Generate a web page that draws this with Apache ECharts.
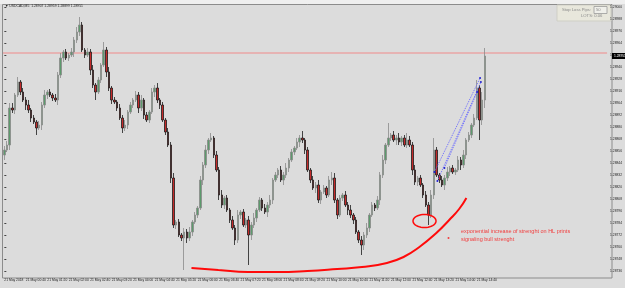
<!DOCTYPE html>
<html><head><meta charset="utf-8">
<script src="https://cdn.jsdelivr.net/npm/echarts@6/dist/echarts.min.js"></script>
<style>html,body{margin:0;padding:0;background:#dcdcdc;overflow:hidden}#c{width:625px;height:288px}</style>
</head><body><div id="c"></div>
<script>
const tickLabels = ["21 May 2018","21 May 00:40","21 May 01:20","21 May 02:00","21 May 02:40","21 May 03:20","21 May 04:00","21 May 04:40","21 May 05:20","21 May 06:00","21 May 06:40","21 May 07:20","21 May 08:00","21 May 08:40","21 May 09:20","21 May 10:00","21 May 10:40","21 May 11:20","21 May 12:00","21 May 12:40","21 May 13:20","21 May 14:00","21 May 14:40"];

const open = [
1.28852,1.28857,1.28862,1.28899,1.28897,1.28912,1.28925,1.28915,1.28907,1.28902,
1.28897,1.28889,1.28885,1.28879,1.28882,1.28902,1.28912,1.28915,1.28912,1.28909,
1.28907,1.28932,1.28949,1.28955,1.28949,1.28952,1.28955,1.28967,1.28975,1.28982,
1.28957,1.28952,1.28955,1.28937,1.28922,1.28915,1.28927,1.28942,1.28957,1.28935,
1.28919,1.28907,1.28905,1.28899,1.28889,1.28879,1.28882,1.28895,1.28902,1.28907,
1.28912,1.28899,1.28907,1.28892,1.28887,1.28895,1.28915,1.28919,1.28907,1.28902,
1.28887,1.28875,1.28862,1.28829,1.28782,1.28785,1.28772,1.28769,1.28775,1.28769,
1.28775,1.28785,1.28792,1.28799,1.28827,1.28842,1.28857,1.28867,1.28869,1.28852,
1.28837,1.28812,1.28802,1.28809,1.28797,1.28787,1.28779,1.28767,1.28792,1.28795,
1.28782,1.28787,1.28772,1.28782,1.28789,1.28797,1.28807,1.28799,1.28795,1.28802,
1.28807,1.28827,1.28832,1.28837,1.28827,1.28832,1.28839,1.28847,1.28855,1.28859,
1.28865,1.28869,1.28867,1.28857,1.28837,1.28827,1.28819,1.28822,1.28807,1.28815,
1.28819,1.28812,1.28827,1.28829,1.28807,1.28792,1.28809,1.28812,1.28802,1.28797,
1.28792,1.28787,1.28775,1.28767,1.28762,1.28772,1.28779,1.28792,1.28802,1.28799,
1.28807,1.28832,1.28847,1.28862,1.28869,1.28872,1.28867,1.28869,1.28865,1.28869,
1.28862,1.28867,1.28862,1.28837,1.28825,1.28829,1.28822,1.28812,1.28802,1.28792,
1.28812,1.28857,1.28832,1.28827,1.28822,1.28829,1.28835,1.28839,1.28835,1.28837,
1.28847,1.28842,1.28852,1.28867,1.28872,1.28882,1.28889,1.28919,1.28887,1.28907];

const close = [
1.28857,1.28862,1.28899,1.28897,1.28912,1.28925,1.28915,1.28907,1.28902,1.28897,
1.28889,1.28885,1.28879,1.28882,1.28902,1.28912,1.28915,1.28912,1.28909,1.28907,
1.28932,1.28949,1.28955,1.28949,1.28952,1.28955,1.28967,1.28975,1.28982,1.28957,
1.28952,1.28955,1.28937,1.28922,1.28915,1.28927,1.28942,1.28957,1.28935,1.28919,
1.28907,1.28905,1.28899,1.28889,1.28879,1.28882,1.28895,1.28902,1.28907,1.28912,
1.28899,1.28907,1.28892,1.28887,1.28895,1.28915,1.28919,1.28907,1.28902,1.28887,
1.28875,1.28862,1.28829,1.28782,1.28785,1.28772,1.28769,1.28775,1.28769,1.28775,
1.28785,1.28792,1.28799,1.28827,1.28842,1.28857,1.28867,1.28869,1.28852,1.28837,
1.28812,1.28802,1.28809,1.28797,1.28787,1.28779,1.28767,1.28792,1.28795,1.28782,
1.28787,1.28772,1.28782,1.28789,1.28797,1.28807,1.28799,1.28795,1.28802,1.28807,
1.28827,1.28832,1.28837,1.28827,1.28832,1.28839,1.28847,1.28855,1.28859,1.28865,
1.28869,1.28867,1.28857,1.28837,1.28827,1.28819,1.28822,1.28807,1.28815,1.28819,
1.28812,1.28827,1.28829,1.28807,1.28792,1.28809,1.28812,1.28802,1.28797,1.28792,
1.28787,1.28775,1.28767,1.28762,1.28772,1.28779,1.28792,1.28802,1.28799,1.28807,
1.28832,1.28847,1.28862,1.28869,1.28872,1.28867,1.28869,1.28865,1.28869,1.28862,
1.28867,1.28862,1.28837,1.28825,1.28829,1.28822,1.28812,1.28802,1.28792,1.28812,
1.28857,1.28832,1.28827,1.28822,1.28829,1.28835,1.28839,1.28835,1.28837,1.28847,
1.28842,1.28852,1.28867,1.28872,1.28882,1.28889,1.28919,1.28887,1.28907,1.28951];

const high = [
1.28861,1.28866,1.28904,1.28904,1.28914,1.28930,1.28927,1.28919,1.28910,1.28907,
1.28899,1.28892,1.28887,1.28886,1.28905,1.28917,1.28917,1.28918,1.28914,1.28913,
1.28935,1.28954,1.28957,1.28958,1.28954,1.28959,1.28970,1.28980,1.28990,1.28985,
1.28959,1.28959,1.28958,1.28942,1.28924,1.28930,1.28944,1.28965,1.28960,1.28940,
1.28921,1.28910,1.28907,1.28903,1.28892,1.28887,1.28897,1.28905,1.28909,1.28916,
1.28915,1.28912,1.28909,1.28895,1.28897,1.28919,1.28922,1.28924,1.28909,1.28905,
1.28889,1.28879,1.28865,1.28834,1.28787,1.28788,1.28774,1.28779,1.28778,1.28780,
1.28787,1.28795,1.28801,1.28831,1.28845,1.28862,1.28869,1.28874,1.28871,1.28856,
1.28840,1.28817,1.28811,1.28812,1.28799,1.28791,1.28782,1.28797,1.28797,1.28798,
1.28789,1.28791,1.28785,1.28794,1.28799,1.28810,1.28809,1.28803,1.28805,1.28812,
1.28829,1.28835,1.28839,1.28841,1.28835,1.28844,1.28849,1.28858,1.28861,1.28869,
1.28872,1.28876,1.28869,1.28860,1.28839,1.28831,1.28825,1.28827,1.28817,1.28822,
1.28821,1.28831,1.28835,1.28834,1.28809,1.28812,1.28814,1.28816,1.28805,1.28802,
1.28794,1.28790,1.28777,1.28771,1.28775,1.28784,1.28794,1.28805,1.28804,1.28811,
1.28835,1.28852,1.28864,1.28884,1.28874,1.28876,1.28872,1.28874,1.28871,1.28872,
1.28874,1.28871,1.28865,1.28842,1.28831,1.28832,1.28824,1.28816,1.28805,1.28817,
1.28869,1.28860,1.28834,1.28831,1.28832,1.28840,1.28841,1.28842,1.28839,1.28851,
1.28850,1.28857,1.28869,1.28875,1.28884,1.28893,1.28927,1.28922,1.28915,1.28959];

const low = [
1.28847,1.28855,1.28857,1.28894,1.28893,1.28910,1.28912,1.28905,1.28897,1.28894,
1.28885,1.28883,1.28872,1.28877,1.28877,1.28899,1.28908,1.28910,1.28906,1.28905,
1.28902,1.28929,1.28945,1.28947,1.28946,1.28950,1.28950,1.28964,1.28971,1.28955,
1.28949,1.28950,1.28932,1.28919,1.28907,1.28913,1.28924,1.28940,1.28930,1.28916,
1.28903,1.28903,1.28896,1.28887,1.28874,1.28876,1.28878,1.28893,1.28899,1.28905,
1.28894,1.28896,1.28888,1.28885,1.28884,1.28893,1.28910,1.28904,1.28898,1.28885,
1.28872,1.28860,1.28824,1.28779,1.28778,1.28770,1.28766,1.28737,1.28764,1.28766,
1.28771,1.28783,1.28789,1.28797,1.28822,1.28839,1.28853,1.28865,1.28849,1.28835,
1.28807,1.28799,1.28798,1.28795,1.28784,1.28777,1.28762,1.28764,1.28788,1.28780,
1.28779,1.28742,1.28767,1.28779,1.28785,1.28795,1.28796,1.28793,1.28790,1.28799,
1.28803,1.28825,1.28829,1.28825,1.28822,1.28829,1.28835,1.28845,1.28852,1.28857,
1.28860,1.28864,1.28853,1.28835,1.28824,1.28817,1.28814,1.28804,1.28803,1.28813,
1.28809,1.28810,1.28822,1.28804,1.28788,1.28790,1.28806,1.28800,1.28792,1.28789,
1.28783,1.28773,1.28764,1.28752,1.28757,1.28769,1.28775,1.28790,1.28796,1.28797,
1.28802,1.28829,1.28843,1.28860,1.28866,1.28865,1.28862,1.28862,1.28861,1.28860,
1.28859,1.28860,1.28832,1.28822,1.28821,1.28820,1.28809,1.28800,1.28782,1.28789,
1.28808,1.28830,1.28824,1.28820,1.28817,1.28826,1.28831,1.28833,1.28832,1.28835,
1.28837,1.28839,1.28848,1.28865,1.28869,1.28880,1.28887,1.28867,1.28882,1.28899];

const levelLine = 1.28954;
// hand-drawn annotation (bar index, price)
const curveX = [69.7,79.7,90.7,101.8,112.9,124.0,133.2,142.5,148.7,154.6,160.9,165.7,169.4,172.1];
const curveY = [1.28739,1.28737,1.28735,1.28735,1.28736,1.28738,1.28740,1.28744,1.28750,1.28760,1.28774,1.28787,1.28798,1.28809];
const trend1 = [[160.2,1.28835],[177.2,1.28929]];
const trend2 = [[161.3,1.28826],[177.5,1.28925]];
const trend3 = [[163.9,1.28839],[176.1,1.28915]];
const circleCenter = [156.5, 1.28786];

const TOTAL = 225;
const categories = [];
for (let i = 0; i < TOTAL; i++) categories.push((i % 8 === 0 && i / 8 < tickLabels.length) ? tickLabels[i / 8] : '');
const ohlc = open.map((o, i) => [o, close[i], low[i], high[i]]);
const curve = curveX.map((x, i) => [x, curveY[i]]);
const lastClose = close[close.length - 1];

const FONT = 'Liberation Sans';
const tiny = {fontFamily: FONT, fontSize: 3.3, color: '#222'};
const chart = echarts.init(document.getElementById('c'));
const trendSeries = (d) => ({type:'line', xAxisIndex:1, yAxisIndex:0, data:d, silent:true, clip:false,
  symbol:'circle', symbolSize:2, itemStyle:{color:'#2020d0'},
  lineStyle:{color:'#6a6aff', width:1, type:[1,1]}, z:5});
chart.setOption({
  animation:false,
  backgroundColor:'#dcdcdc',
  grid:{left:3, right:13, top:7, height:264},
  xAxis:[
    {type:'category', data:categories, boundaryGap:true,
     axisLine:{show:false}, axisTick:{show:false}, splitLine:{show:false},
     axisLabel:{interval:7, align:'left', margin:8, ...tiny}},
    {type:'value', min:-0.5, max:TOTAL-0.5, show:false}
  ],
  yAxis:{type:'value', position:'right', min:1.28736, max:1.29000, interval:0.00012,
    axisLine:{show:false}, axisTick:{show:true, length:2, lineStyle:{color:'#444'}},
    splitLine:{show:false},
    axisLabel:{margin:3, ...tiny, formatter:(v)=>v.toFixed(5)}},
  series:[
    {type:'line', xAxisIndex:1, yAxisIndex:0, data:[[-0.5, levelLine],[TOTAL-0.5, levelLine]],
     symbol:'none', silent:true, lineStyle:{color:'#f08a8a', width:1}, z:1},
    {type:'candlestick', data:ohlc, barWidth:2, z:3,
     itemStyle:{color:'#5c9a6c', color0:'#c42a2a', borderColor:'#8a8a8a', borderColor0:'#1c1c1c', borderWidth:0.8}},
    {type:'line', xAxisIndex:1, yAxisIndex:0, data:curve, smooth:true, symbol:'none', clip:false, silent:true,
     lineStyle:{color:'#ff0a0a', width:2}, z:6},
    trendSeries(trend1), trendSeries(trend2), trendSeries(trend3)
  ]
});
const pc = chart.convertToPixel({xAxisIndex:1, yAxisIndex:0}, [TOTAL - 0.5, lastClose]);
const ctr = chart.convertToPixel({xAxisIndex:1, yAxisIndex:0}, circleCenter);
const pts = [];
for (let k = 0; k <= 40; k++) { const a = k / 40 * Math.PI * 2; pts.push([ctr[0] + 11.5 * Math.cos(a), ctr[1] + 6.5 * Math.sin(a)]); }
chart.setOption({graphic:{elements:[
  {id:'strip', type:'rect', z:-1, shape:{x:0,y:0,width:625,height:4}, style:{fill:'#efefef'}},
  {id:'frame', type:'rect', z:0, shape:{x:2.5,y:4.5,width:609.5,height:273.5}, style:{fill:'none', stroke:'#8c8c8c', lineWidth:1}},
  {id:'hdr', type:'text', x:5, y:4.5, style:{text:'▼ USDCAD,M5  1.28907 1.28959 1.28899 1.28951', fontFamily:FONT, fontSize:3.4, fill:'#222'}},
  {id:'box', type:'rect', shape:{x:557,y:5,width:54,height:16}, style:{fill:'#e8e7dc', stroke:'#cfcfc6', lineWidth:1}},
  {id:'sl', type:'text', x:562, y:8, style:{text:'Stop Loss Pips:', fontFamily:FONT, fontSize:4.2, fill:'#8a8a8a'}},
  {id:'inp', type:'rect', shape:{x:594,y:6.5,width:13,height:7}, style:{fill:'#efefea', stroke:'#9a9a9a', lineWidth:0.8}},
  {id:'inpt', type:'text', x:596, y:8, style:{text:'50', fontFamily:FONT, fontSize:4.2, fill:'#8a8a8a'}},
  {id:'lots', type:'text', x:581, y:14, style:{text:'LOTS: 0.06', fontFamily:FONT, fontSize:4.2, fill:'#8a8a8a'}},
  {id:'t1', type:'text', x:461, y:228, style:{text:'exponential increase of strenght on HL prints', fontFamily:FONT, fontSize:5.5, fill:'#f23c3c'}},
  {id:'t2', type:'text', x:461, y:236, style:{text:'signaling bull strenght', fontFamily:FONT, fontSize:5.5, fill:'#f23c3c'}},
  {id:'dot', type:'circle', shape:{cx:448.5, cy:238, r:1}, style:{fill:'#f23c3c'}},
  {id:'ell', type:'polyline', z:10, shape:{points:pts}, style:{fill:'none', stroke:'#ff0a0a', lineWidth:1.5}},
  {id:'pbox', type:'rect', z:10, shape:{x:612, y:pc[1]-3, width:13, height:6}, style:{fill:'#000'}},
  {id:'ptxt', type:'text', z:11, x:614, y:pc[1]-1.8, style:{text:lastClose.toFixed(5), fontFamily:FONT, fontSize:3.3, fill:'#fff'}}
]}});
</script></body></html>
